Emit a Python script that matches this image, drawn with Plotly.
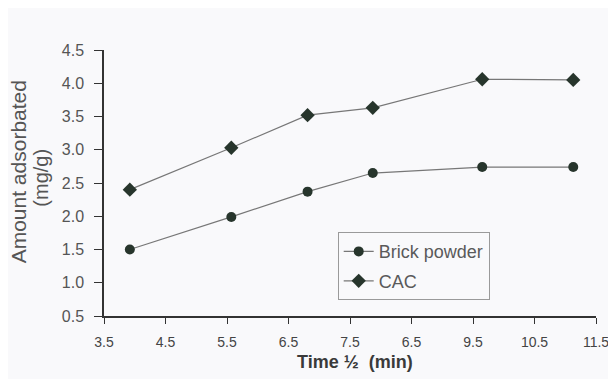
import plotly.graph_objects as go

time_sqrt = [3.92, 5.57, 6.81, 7.87, 9.65, 11.13]
brick_powder = [1.50, 1.99, 2.37, 2.65, 2.74, 2.74]
cac = [2.40, 3.03, 3.52, 3.63, 4.06, 4.05]
x_tick_vals = [3.5, 4.5, 5.5, 6.5, 7.5, 8.5, 9.5, 10.5, 11.5]
x_tick_text = ["3.5", "4.5", "5.5", "6.5", "7.5", "6.5", "9.5", "10.5", "11.5"]
y_tick_vals = [0.5, 1.0, 1.5, 2.0, 2.5, 3.0, 3.5, 4.0, 4.5]

sans = "Liberation Sans, Arial, Helvetica, sans-serif"
line_col = "#777777"
marker_col = "#27352c"

fig = go.Figure()
fig.add_trace(go.Scatter(
    x=time_sqrt, y=brick_powder, name="Brick powder", mode="lines+markers",
    legendgroup="a",
    line=dict(color=line_col, width=1.2),
    marker=dict(symbol="circle", size=10, color=marker_col),
))
fig.add_trace(go.Scatter(
    x=time_sqrt, y=cac, name="CAC", mode="lines+markers",
    legendgroup="b",
    line=dict(color=line_col, width=1.2),
    marker=dict(symbol="diamond", size=11, color=marker_col),
))

fig.update_layout(
    width=616, height=379,
    margin=dict(l=96, r=28, t=42, b=71),
    paper_bgcolor="#f9f9fb", plot_bgcolor="#f9f9fb",
    font=dict(family=sans, color="#4a4a4a", size=14),
    showlegend=True,
    legend=dict(
        x=0.475, y=0.315, xanchor="left", yanchor="top",
        bordercolor="#9a9a9a", borderwidth=1, bgcolor="rgba(0,0,0,0)",
        font=dict(family=sans, size=18, color="#5a5a5a"),
        itemwidth=30, tracegroupgap=3, traceorder="grouped",
    ),
    annotations=[
        dict(text="Amount adsorbated", xref="paper", yref="paper", x=0, y=0.54,
             xshift=-86, xanchor="center", yanchor="middle", textangle=-90,
             showarrow=False, font=dict(family=sans, size=21, color="#555555")),
        dict(text="(mg/g)", xref="paper", yref="paper", x=0, y=0.52,
             xshift=-63, xanchor="center", yanchor="middle", textangle=-90,
             showarrow=False, font=dict(family=sans, size=20, color="#555555")),
        dict(text="<b>Time ½  (min)</b>", xref="paper", yref="paper", x=0.51, y=-0.172,
             xanchor="center", yanchor="middle", showarrow=False,
             font=dict(family=sans, size=18, color="#3a3a3a")),
    ],
)
fig.update_xaxes(
    range=[3.5, 11.5], tickvals=x_tick_vals, ticktext=x_tick_text,
    showgrid=False, zeroline=False, showline=True, linecolor="#333333", linewidth=1.5,
    ticks="outside", ticklen=6, tickwidth=1.3, tickcolor="#333333",
    tickfont=dict(size=14, color="#444444"), ticklabelstandoff=6,
)
fig.update_yaxes(
    range=[0.5, 4.5], tickvals=y_tick_vals, tickformat=".1f",
    showgrid=False, zeroline=False, showline=True, linecolor="#333333", linewidth=1.5,
    ticks="outside", ticklen=8, tickwidth=1.3, tickcolor="#333333",
    tickfont=dict(size=16, color="#555555"), ticklabelstandoff=7,
)

fig.write_html("out.html")
